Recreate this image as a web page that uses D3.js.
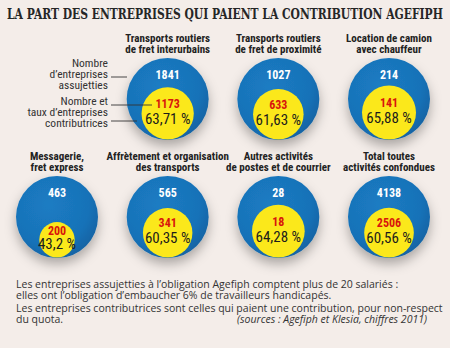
<!DOCTYPE html>
<html><head><meta charset="utf-8">
<script src="https://cdn.jsdelivr.net/npm/d3@7"></script>
<style>
html,body{margin:0;padding:0;background:#f4ede9;}
svg{display:block;}
</style></head>
<body>
<script>
const titles = [
  ["Transports routiers","de fret interurbains"],
  ["Transports routiers","de fret de proximité"],
  ["Location de camion","avec chauffeur"],
  ["Messagerie,","fret express"],
  ["Affrètement et organisation","des transports"],
  ["Autres activités","de postes et de courrier"],
  ["Total toutes","activités confondues"]
];
const assujetties = [1841, 1027, 214, 463, 565, 28, 4138];
const contributrices = [1173, 633, 141, 200, 341, 18, 2506];
const taux = [63.71, 61.63, 65.88, 43.2, 60.35, 64.28, 60.56];
const tauxLabels = ["63,71 %","61,63 %","65,88 %","43,2 %","60,35 %","64,28 %","60,56 %"];
const cols = [1, 2, 3, 0, 1, 2, 3];
const rows = [0, 0, 0, 1, 1, 1, 1];

const W = 450, H = 348, R = 41;
const svg = d3.select("body").append("svg").attr("width", W).attr("height", H);
const defs = svg.append("defs");
const f = defs.append("filter").attr("id","sh").attr("x","-50%").attr("y","-50%").attr("width","200%").attr("height","200%");
f.append("feDropShadow").attr("dx",0).attr("dy",6).attr("stdDeviation",6).attr("flood-color","#000").attr("flood-opacity",0.3);
const g = defs.append("radialGradient").attr("id","bl").attr("cx","40%").attr("cy","35%").attr("r","70%");
g.append("stop").attr("offset","0%").attr("stop-color","#1b7cc3");
g.append("stop").attr("offset","70%").attr("stop-color","#1872b8");
g.append("stop").attr("offset","100%").attr("stop-color","#1262a2");

const x = d3.scalePoint().domain([0,1,2,3]).range([57, 389]);
const y = d3.scalePoint().domain([0,1]).range([99, 217]);
const rScale = d3.scaleLinear().domain([0,100]).range([0, R]);

const cond = "'Liberation Sans Narrow','Roboto Condensed','Arial Narrow',sans-serif";

const tg = svg.append("g");
const title = tg.append("text").attr("x", 0).attr("y", 0)
  .attr("font-family","'DejaVu Serif Condensed','DejaVu Serif',serif").attr("font-weight","bold")
  .attr("font-size", 14).attr("fill","#262626")
  .text("LA PART DES ENTREPRISES QUI PAIENT LA CONTRIBUTION AGEFIPH");
const tw = title.node().getComputedTextLength();
tg.attr("transform", `translate(7,19) scale(${436/tw},1)`);

titles.forEach((t, i) => {
  const cx = x(cols[i]), cy = y(rows[i]);
  const ry = rScale(taux[i]);
  const yc = cy + R - ry - 0.5;
  const grp = svg.append("g");
  grp.append("circle").attr("cx",cx).attr("cy",cy).attr("r",R).attr("fill","url(#bl)").attr("filter","url(#sh)");
  grp.append("circle").attr("cx",cx).attr("cy",yc).attr("r",ry).attr("fill","#fbe81b");
  t.forEach((line, k) => {
    grp.append("text").attr("x", cx).attr("y", cy - 57 + k*11).attr("text-anchor","middle")
      .attr("font-family", cond).attr("font-weight","bold").attr("font-size", 11).attr("fill","#222").text(line);
  });
  grp.append("text").attr("x", cx).attr("y", cy - 20).attr("text-anchor","middle")
    .attr("font-family", cond).attr("font-weight","bold").attr("font-size", 12).attr("fill","#fff").text(assujetties[i]);
  grp.append("text").attr("x", cx).attr("y", yc - Math.min(10, ry*0.55) + 4.5).attr("text-anchor","middle")
    .attr("font-family", cond).attr("font-weight","bold").attr("font-size", 12).attr("fill","#d8150c").text(contributrices[i]);
  grp.append("text").attr("x", cx).attr("y", yc + Math.min(10, ry*0.2) + 5.5).attr("text-anchor","middle")
    .attr("font-family", cond).attr("font-size", 15).attr("fill","#1c1c1c").text(tauxLabels[i]);
});

// Left legend annotations
const sans = "'Liberation Sans Narrow','Roboto Condensed',sans-serif";
const leg1 = ["Nombre","d’entreprises","assujetties"];
const leg2 = ["Nombre et","taux d’entreprises","contributrices"];
leg1.forEach((l,k)=> svg.append("text").attr("x",108).attr("y",67+k*11).attr("text-anchor","end")
  .attr("font-family",sans).attr("font-size",11.5).attr("fill","#333").text(l));
leg2.forEach((l,k)=> svg.append("text").attr("x",108).attr("y",105+k*11).attr("text-anchor","end")
  .attr("font-family",sans).attr("font-size",11.5).attr("fill","#333").text(l));
[[77,127],[105,152],[121,137]].forEach(([yy,x2]) =>
  svg.append("line").attr("x1",111).attr("x2",x2).attr("y1",yy).attr("y2",yy).attr("stroke","#333").attr("stroke-width",0.9));

// Bottom notes
const notes = [
  "Les entreprises assujetties à l’obligation Agefiph comptent plus de 20 salariés :",
  "elles ont l’obligation d’embaucher 6% de travailleurs handicapés.",
  "Les entreprises contributrices sont celles qui paient une contribution, pour non-respect",
  "du quota."
];
const ny = [287.5, 298.5, 311.5, 322.5];
notes.forEach((n,k)=> svg.append("text").attr("x",16).attr("y",ny[k])
  .attr("font-family","'Open Sans','Noto Sans',sans-serif").attr("font-size",10.5).attr("fill","#333").text(n));
svg.append("text").attr("x",427).attr("y",322.5).attr("text-anchor","end")
  .attr("font-family","'Open Sans','Noto Sans',sans-serif").attr("font-style","italic").attr("font-size",10.5).attr("fill","#333")
  .text("(sources : Agefiph et Klesia, chiffres 2011)");
</script>
</body></html>
